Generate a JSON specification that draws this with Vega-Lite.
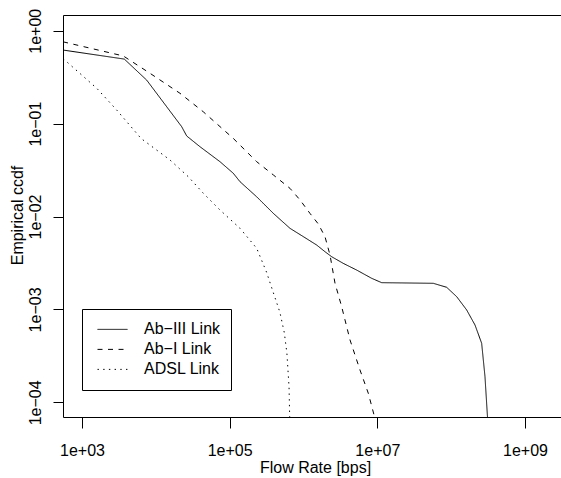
{
  "$schema": "https://vega.github.io/schema/vega-lite/v6.json",
  "width": 498,
  "height": 402,
  "autosize": {"type": "none"},
  "padding": {"left": 63, "top": 15, "right": 0, "bottom": 61},
  "background": "white",
  "data": {"values": [
    {"series": "Ab−III Link", "x": 555, "y": 0.619},
    {"series": "Ab−III Link", "x": 3741, "y": 0.495},
    {"series": "Ab−III Link", "x": 7516, "y": 0.294},
    {"series": "Ab−III Link", "x": 14028, "y": 0.152},
    {"series": "Ab−III Link", "x": 22387, "y": 0.0927},
    {"series": "Ab−III Link", "x": 26182, "y": 0.0736},
    {"series": "Ab−III Link", "x": 39628, "y": 0.0564},
    {"series": "Ab−III Link", "x": 73961, "y": 0.0389},
    {"series": "Ab−III Link", "x": 111944, "y": 0.0292},
    {"series": "Ab−III Link", "x": 138038, "y": 0.0237},
    {"series": "Ab−III Link", "x": 232273, "y": 0.0163},
    {"series": "Ab−III Link", "x": 390841, "y": 0.0108},
    {"series": "Ab−III Link", "x": 656145, "y": 0.00746},
    {"series": "Ab−III Link", "x": 995405, "y": 0.00607},
    {"series": "Ab−III Link", "x": 1510000, "y": 0.00493},
    {"series": "Ab−III Link", "x": 1954000, "y": 0.00418},
    {"series": "Ab−III Link", "x": 2410000, "y": 0.00369},
    {"series": "Ab−III Link", "x": 3459000, "y": 0.00313},
    {"series": "Ab−III Link", "x": 5260000, "y": 0.00265},
    {"series": "Ab−III Link", "x": 8395000, "y": 0.00216},
    {"series": "Ab−III Link", "x": 11460000, "y": 0.00194},
    {"series": "Ab−III Link", "x": 57280000, "y": 0.00191},
    {"series": "Ab−III Link", "x": 86900000, "y": 0.00173},
    {"series": "Ab−III Link", "x": 118900000, "y": 0.00137},
    {"series": "Ab−III Link", "x": 162200000, "y": 0.000986},
    {"series": "Ab−III Link", "x": 210400000, "y": 0.000679},
    {"series": "Ab−III Link", "x": 258800000, "y": 0.000432},
    {"series": "Ab−III Link", "x": 287100000, "y": 0.000189},
    {"series": "Ab−III Link", "x": 318400000, "y": 0.00005},
    {"series": "Ab−I Link", "x": 555, "y": 0.759},
    {"series": "Ab−I Link", "x": 3622, "y": 0.535},
    {"series": "Ab−I Link", "x": 8337, "y": 0.348},
    {"series": "Ab−I Link", "x": 21232, "y": 0.212},
    {"series": "Ab−I Link", "x": 43954, "y": 0.134},
    {"series": "Ab−I Link", "x": 111944, "y": 0.0693},
    {"series": "Ab−I Link", "x": 232273, "y": 0.0389},
    {"series": "Ab−I Link", "x": 390841, "y": 0.028},
    {"series": "Ab−I Link", "x": 656145, "y": 0.0201},
    {"series": "Ab−I Link", "x": 897400, "y": 0.01507},
    {"series": "Ab−I Link", "x": 1224600, "y": 0.0108},
    {"series": "Ab−I Link", "x": 1585000, "y": 0.00832},
    {"series": "Ab−I Link", "x": 1954000, "y": 0.00607},
    {"series": "Ab−I Link", "x": 2286000, "y": 0.00385},
    {"series": "Ab−I Link", "x": 2673000, "y": 0.00191},
    {"series": "Ab−I Link", "x": 3289000, "y": 0.00107},
    {"series": "Ab−I Link", "x": 4266000, "y": 0.000469},
    {"series": "Ab−I Link", "x": 5821000, "y": 0.000223},
    {"series": "Ab−I Link", "x": 7551000, "y": 0.000125},
    {"series": "Ab−I Link", "x": 10230000, "y": 0.00005},
    {"series": "ADSL Link", "x": 555, "y": 0.501},
    {"series": "ADSL Link", "x": 1585, "y": 0.24},
    {"series": "ADSL Link", "x": 2951, "y": 0.14},
    {"series": "ADSL Link", "x": 6310, "y": 0.0692},
    {"series": "ADSL Link", "x": 15488, "y": 0.0407},
    {"series": "ADSL Link", "x": 27542, "y": 0.0268},
    {"series": "ADSL Link", "x": 43954, "y": 0.0178},
    {"series": "ADSL Link", "x": 73961, "y": 0.01175},
    {"series": "ADSL Link", "x": 138038, "y": 0.00746},
    {"series": "ADSL Link", "x": 232273, "y": 0.00455},
    {"series": "ADSL Link", "x": 316228, "y": 0.00251},
    {"series": "ADSL Link", "x": 398107, "y": 0.001445},
    {"series": "ADSL Link", "x": 478630, "y": 0.000933},
    {"series": "ADSL Link", "x": 549541, "y": 0.000562},
    {"series": "ADSL Link", "x": 595662, "y": 0.000339},
    {"series": "ADSL Link", "x": 636796, "y": 0.000147},
    {"series": "ADSL Link", "x": 656145, "y": 0.00005}
  ]},
  "layer": [
    {
      "mark": {"type": "line", "color": "black", "strokeWidth": 1, "clip": true},
      "encoding": {
        "x": {
          "field": "x", "type": "quantitative",
          "scale": {"type": "log", "domain": [552.9, 3073000000], "nice": false, "zero": false},
          "axis": {
            "orient": "bottom",
            "values": [1000, 100000, 10000000, 1000000000],
            "labelExpr": "'1e+0' + format(log(datum.value)/LN10, '.0f')",
            "tickSize": 11,
            "labelPadding": 27,
            "labelBaseline": "alphabetic",
            "labelAlign": "center",
            "labelFlush": false,
            "labelOverlap": false,
            "title": "Flow Rate [bps]",
            "titleX": 252,
            "titleY": 55.7,
            "titleBaseline": "alphabetic",
            "titleAlign": "center"
          }
        },
        "y": {
          "field": "y", "type": "quantitative",
          "scale": {"type": "log", "domain": [0.0000695, 1.476], "nice": false, "zero": false},
          "axis": {
            "orient": "left",
            "values": [1, 0.1, 0.01, 0.001, 0.0001],
            "labelExpr": "datum.value >= 1 ? '1e+00' : '1e−0' + format(-log(datum.value)/LN10, '.0f')",
            "tickSize": 10,
            "labelPadding": 13,
            "labelAngle": 270,
            "labelAlign": "center",
            "labelBaseline": "alphabetic",
            "labelFlush": false,
            "labelOverlap": false,
            "title": "Empirical ccdf",
            "titleAngle": 270,
            "titleX": -41,
            "titleY": 200,
            "titleAlign": "center",
            "titleBaseline": "alphabetic"
          }
        },
        "strokeDash": {
          "field": "series", "type": "nominal",
          "scale": {
            "domain": ["Ab−III Link", "Ab−I Link", "ADSL Link"],
            "range": [[1, 0], [5, 5.5], [1.4, 4.3]]
          },
          "legend": {
            "title": null,
            "orient": "none",
            "legendX": 19,
            "legendY": 294,
            "direction": "vertical",
            "padding": 10.5,
            "strokeColor": "black",
            "fillColor": "white",
            "symbolType": "stroke",
            "symbolSize": 900,
            "symbolStrokeWidth": 1,
            "symbolStrokeColor": "black",
            "symbolOffset": 4.5,
            "labelOffset": 16,
            "labelFontSize": 16,
            "labelColor": "black",
            "labelLimit": 0,
            "clipHeight": 19.75,
            "rowPadding": 0
          }
        }
      }
    },
    {
      "mark": {"type": "line", "opacity": 0, "clip": true},
      "encoding": {
        "x": {
          "field": "x", "type": "quantitative",
          "axis": {"orient": "top", "ticks": false, "labels": false, "title": null, "domain": true}
        }
      }
    }
  ],
  "resolve": {"axis": {"x": "independent"}},
  "config": {
    "view": {"stroke": null},
    "font": "Liberation Sans",
    "axis": {
      "grid": false,
      "domainColor": "black",
      "domainWidth": 1,
      "tickColor": "black",
      "tickWidth": 1,
      "labelColor": "black",
      "titleColor": "black",
      "labelFontSize": 16,
      "titleFontSize": 16,
      "titleFontWeight": "normal",
      "titlePadding": 0
    }
  }
}
